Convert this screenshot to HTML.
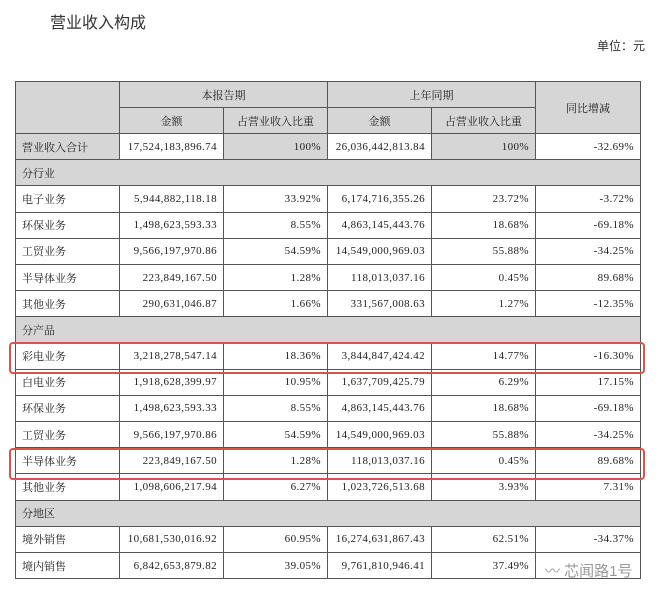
<!DOCTYPE html>
<html><head><meta charset="utf-8"><style>
body{margin:0;width:657px;height:595px;background:#fff;position:relative;font-family:"Liberation Serif","Noto Serif CJK SC",serif;color:#222;overflow:hidden}
.t{position:absolute;left:50px;top:9px;font-size:16px;font-family:"Liberation Sans","Noto Sans CJK SC",sans-serif;color:#333}
.u{position:absolute;left:597px;top:37px;font-size:12px;font-family:"Liberation Sans","Noto Sans CJK SC",sans-serif;color:#333}
table{position:absolute;left:15px;top:81px;border-collapse:collapse;table-layout:fixed;width:625px;font-size:11px}
tr{height:26.2px}
td{border:1px solid #555;padding:0 6px;white-space:nowrap;overflow:hidden;text-align:right;box-sizing:border-box;letter-spacing:0.4px}
td.l{text-align:left;letter-spacing:0}
.h{height:26px}
.h td{background:#d6d6d6;text-align:center;letter-spacing:0}
.g{background:#d6d6d6}
.s td{background:#d6d6d6;text-align:left;letter-spacing:0}
.box{position:absolute;border:2px solid #d9534f;border-radius:4px;left:9px;width:632px;height:28px}
.wm{position:absolute;left:545px;top:560px;font-size:15px;color:#999;font-family:"Liberation Sans","Noto Sans CJK SC",sans-serif}
</style></head><body>
<div class="t">营业收入构成</div>
<div class="u">单位：元</div>
<table>
<colgroup><col style="width:104px"><col style="width:104px"><col style="width:104px"><col style="width:104px"><col style="width:104px"><col style="width:105px"></colgroup>
<tr class="h"><td rowspan="2"></td><td colspan="2">本报告期</td><td colspan="2">上年同期</td><td rowspan="2">同比增减</td></tr>
<tr class="h"><td>金额</td><td>占营业收入比重</td><td>金额</td><td>占营业收入比重</td></tr>
<tr><td class="l g">营业收入合计</td><td>17,524,183,896.74</td><td class="g">100%</td><td>26,036,442,813.84</td><td class="g">100%</td><td>-32.69%</td></tr>
<tr class="s"><td colspan="6">分行业</td></tr>
<tr><td class="l">电子业务</td><td>5,944,882,118.18</td><td>33.92%</td><td>6,174,716,355.26</td><td>23.72%</td><td>-3.72%</td></tr>
<tr><td class="l">环保业务</td><td>1,498,623,593.33</td><td>8.55%</td><td>4,863,145,443.76</td><td>18.68%</td><td>-69.18%</td></tr>
<tr><td class="l">工贸业务</td><td>9,566,197,970.86</td><td>54.59%</td><td>14,549,000,969.03</td><td>55.88%</td><td>-34.25%</td></tr>
<tr><td class="l">半导体业务</td><td>223,849,167.50</td><td>1.28%</td><td>118,013,037.16</td><td>0.45%</td><td>89.68%</td></tr>
<tr><td class="l">其他业务</td><td>290,631,046.87</td><td>1.66%</td><td>331,567,008.63</td><td>1.27%</td><td>-12.35%</td></tr>
<tr class="s"><td colspan="6">分产品</td></tr>
<tr><td class="l">彩电业务</td><td>3,218,278,547.14</td><td>18.36%</td><td>3,844,847,424.42</td><td>14.77%</td><td>-16.30%</td></tr>
<tr><td class="l">白电业务</td><td>1,918,628,399.97</td><td>10.95%</td><td>1,637,709,425.79</td><td>6.29%</td><td>17.15%</td></tr>
<tr><td class="l">环保业务</td><td>1,498,623,593.33</td><td>8.55%</td><td>4,863,145,443.76</td><td>18.68%</td><td>-69.18%</td></tr>
<tr><td class="l">工贸业务</td><td>9,566,197,970.86</td><td>54.59%</td><td>14,549,000,969.03</td><td>55.88%</td><td>-34.25%</td></tr>
<tr><td class="l">半导体业务</td><td>223,849,167.50</td><td>1.28%</td><td>118,013,037.16</td><td>0.45%</td><td>89.68%</td></tr>
<tr><td class="l">其他业务</td><td>1,098,606,217.94</td><td>6.27%</td><td>1,023,726,513.68</td><td>3.93%</td><td>7.31%</td></tr>
<tr class="s"><td colspan="6">分地区</td></tr>
<tr><td class="l">境外销售</td><td>10,681,530,016.92</td><td>60.95%</td><td>16,274,631,867.43</td><td>62.51%</td><td>-34.37%</td></tr>
<tr><td class="l">境内销售</td><td>6,842,653,879.82</td><td>39.05%</td><td>9,761,810,946.41</td><td>37.49%</td><td></td></tr>
</table>
<div class="box" style="top:342px"></div>
<div class="box" style="top:448px"></div>
<div class="wm">〰 芯闻路1号</div>
</body></html>
